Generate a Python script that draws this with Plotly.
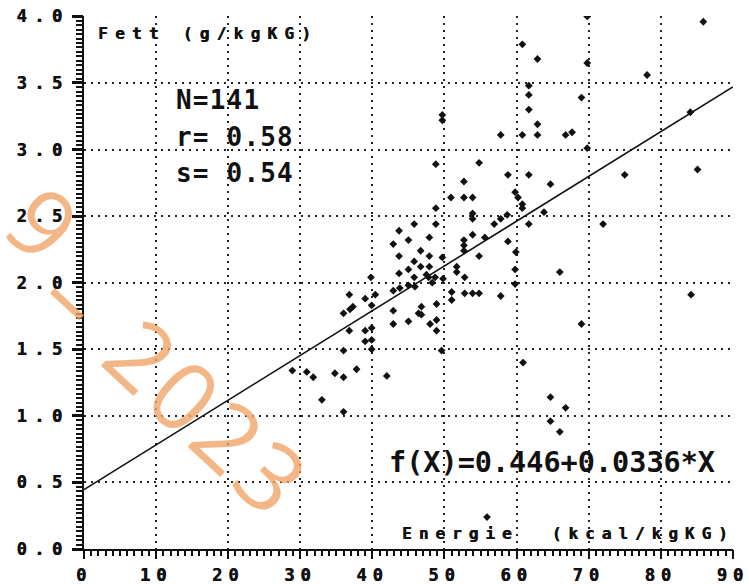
import plotly.graph_objects as go

# ---- data ----
energie = [85.9, 69.8, 60.8, 62.9, 69.8, 78.1, 61.7, 61.7, 69.0, 49.7,
           49.7, 61.7, 62.9, 57.8, 60.8, 62.9, 66.8, 67.7, 84.1, 48.8,
           54.8, 58.8, 61.7, 64.7, 75.0, 85.1, 69.8, 63.8, 50.9, 52.7,
           53.9, 52.7, 48.8, 53.9, 53.9, 48.8, 45.8, 43.7, 45.0, 47.9,
           42.9, 46.7, 43.7, 47.9, 49.7, 45.8, 45.0, 46.7, 47.9, 43.7,
           45.8, 47.8, 48.7, 52.7, 52.7, 53.9, 52.7, 54.8, 55.6, 56.9,
           57.8, 58.7, 58.8, 59.9, 59.8, 60.2, 60.8, 60.8, 61.7, 72.0,
           51.7, 51.7, 52.8, 51.0, 52.8, 53.9, 54.8, 57.8, 59.8, 59.8,
           66.0, 84.2, 40.4, 39.8, 36.8, 39.0, 42.9, 43.8, 45.0, 37.3,
           36.0, 36.9, 39.9, 42.9, 42.9, 45.0, 36.8, 39.0, 39.9, 39.0,
           39.9, 36.0, 39.9, 28.9, 30.9, 31.8, 34.8, 36.0, 37.8, 42.0,
           33.0, 36.0, 46.4, 46.8, 46.8, 48.9, 48.9, 48.9, 48.0, 49.6,
           60.9, 51.0, 64.7, 66.8, 64.7, 66.0, 69.0, 55.9, 45.9, 49.8,
           47.5, 48.3]
fett = [3.96, 4.00, 3.79, 3.68, 3.65, 3.56, 3.48, 3.41, 3.39, 3.26,
        3.22, 3.30, 3.19, 3.11, 3.11, 3.11, 3.11, 3.13, 3.28, 2.89,
        2.90, 2.81, 2.81, 2.74, 2.81, 2.85, 3.01, 2.53, 2.64, 2.64,
        2.64, 2.76, 2.56, 2.52, 2.48, 2.44, 2.44, 2.39, 2.32, 2.34,
        2.29, 2.24, 2.20, 2.20, 2.19, 2.16, 2.10, 2.12, 2.12, 2.07,
        2.04, 2.04, 2.04, 2.32, 2.28, 2.36, 2.24, 2.20, 2.34, 2.44,
        2.48, 2.51, 2.31, 2.23, 2.68, 2.64, 2.59, 2.56, 2.44, 2.44,
        2.12, 2.08, 2.04, 1.93, 1.92, 1.92, 1.92, 1.90, 2.10, 1.99,
        2.08, 1.91, 1.91, 2.04, 1.91, 1.88, 1.94, 1.96, 1.98, 1.82,
        1.77, 1.80, 1.83, 1.79, 1.69, 1.71, 1.64, 1.64, 1.66, 1.56,
        1.57, 1.49, 1.50, 1.34, 1.33, 1.29, 1.32, 1.29, 1.35, 1.30,
        1.12, 1.03, 1.77, 1.82, 1.76, 1.84, 1.72, 1.64, 1.69, 1.49,
        1.40, 1.87, 1.14, 1.06, 0.96, 0.88, 1.69, 0.24, 1.97, 2.03,
        2.06, 2.00]

fit_intercept = 0.446
fit_slope = 0.0336
fit_x = [0, 90]

x_tickvals = [0, 10, 20, 30, 40, 50, 60, 70, 80, 90]
x_ticklabels = ["0", "10", "20", "30", "40", "50", "60", "70", "80", "90"]
y_tickvals = [0.0, 0.5, 1.0, 1.5, 2.0, 2.5, 3.0, 3.5, 4.0]
y_ticklabels = ["0.0", "0.5", "1.0", "1.5", "2.0", "2.5", "3.0", "3.5", "4.0"]
x_minor_per_major = 10   # ruler ticks between labelled ticks
y_minor_per_major = 15

y_title = "Fett (g/kgKG)"
x_title = "Energie\u00a0\u00a0(kcal/kgKG)"
stats_lines = ["N=141", "r= 0.58", "s= 0.54"]
formula = "f(X)=0.446+0.0336*X"
watermark_parts = ["9", "\u2013", "2023"]

MONO = "DejaVu Sans Mono"
INK = "#111"
HEAVY = "0.6px 0 0 #111"


def spaced(t, px, bold=True):
    inner = "<b>%s</b>" % t if bold else t
    return '<span style="letter-spacing:%spx">%s</span>' % (px, inner)


def ruler(vals, labels, n):
    step = (vals[1] - vals[0]) / n
    pos, txt = [], []
    for i in range(len(vals) - 1):
        for k in range(n):
            pos.append(vals[i] + k * step)
            txt.append(labels[i] if k == 0 else "")
    pos.append(vals[-1])
    txt.append(labels[-1])
    return pos, txt


fit_y = [fit_intercept + fit_slope * v for v in fit_x]
xr_pos, xr_txt = ruler(x_tickvals, x_ticklabels, x_minor_per_major)
yr_pos, yr_txt = ruler(y_tickvals, y_ticklabels, y_minor_per_major)

fig = go.Figure()
fig.add_trace(go.Scatter(x=fit_x, y=fit_y, mode="lines", xaxis="x", yaxis="y",
                         line=dict(color=INK, width=1.6),
                         hoverinfo="skip", showlegend=False))
fig.add_trace(go.Scatter(x=energie, y=fett, mode="markers", xaxis="x2", yaxis="y2",
                         marker=dict(symbol="diamond", size=6, color=INK),
                         showlegend=False))

XR = [0, 90.02]
YR = [0, 4.003]
tickfont = dict(family=MONO, size=17, color=INK, shadow=HEAVY)

fig.update_layout(
    xaxis=dict(range=XR, tickmode="array", tickvals=xr_pos,
               ticktext=[spaced(t, 6) if t else "" for t in xr_txt],
               ticks="outside", ticklen=5, tickwidth=1.5, tickcolor=INK,
               ticklabelstandoff=5, ticklabeloverflow="allow",
               showline=True, linecolor=INK, linewidth=2,
               showgrid=False, zeroline=False, tickfont=tickfont),
    yaxis=dict(range=YR, tickmode="array", tickvals=yr_pos,
               ticktext=[spaced(t, 7.5) if t else "" for t in yr_txt],
               ticks="outside", ticklen=6, tickwidth=1.5, tickcolor=INK,
               ticklabelstandoff=3, ticklabeloverflow="allow",
               showline=True, linecolor=INK, linewidth=2,
               showgrid=False, zeroline=False, tickfont=tickfont),
    xaxis2=dict(range=XR, overlaying="x", anchor="y2", side="bottom",
                tickmode="array", tickvals=x_tickvals, showticklabels=False,
                ticks="outside", ticklen=9, tickwidth=2, tickcolor=INK,
                showline=False, zeroline=False,
                showgrid=True, gridcolor="#222", gridwidth=2, griddash="2px,5px"),
    yaxis2=dict(range=YR, overlaying="y", anchor="x2", side="left",
                tickmode="array", tickvals=y_tickvals, showticklabels=False,
                ticks="outside", ticklen=11, tickwidth=2.5, tickcolor=INK,
                showline=False, zeroline=False,
                showgrid=True, gridcolor="#222", gridwidth=2, griddash="2px,5px"),
)

W, H = 749, 584
L, R, T, B = 84, 16, 16, 35
pw, ph = W - L - R, H - T - B


def px2paper(px, py):
    return (px - L) / pw, (H - B - py) / ph


annos = []
x0, y0 = px2paper(96, 34)
annos.append(dict(text=spaced(y_title, 7.3), x=x0, y=y0, xanchor="left", yanchor="middle",
                  font=dict(family=MONO, size=16, color=INK, shadow=HEAVY)))
x0, y0 = px2paper(400, 533)
annos.append(dict(text=spaced(x_title, 7), x=x0, y=y0, xanchor="left", yanchor="middle",
                  font=dict(family=MONO, size=16, color=INK, shadow=HEAVY)))
for line, cy in zip(stats_lines, [100, 137, 173]):
    x0, y0 = px2paper(174, cy)
    annos.append(dict(text=spaced(line, 1.2), x=x0, y=y0, xanchor="left", yanchor="middle",
                      font=dict(family=MONO, size=26, color=INK)))
x0, y0 = px2paper(387, 462)
annos.append(dict(text=spaced(formula, 0), x=x0, y=y0, xanchor="left", yanchor="middle",
                  font=dict(family=MONO, size=28.5, color=INK)))

wm_font = dict(family="Open Sans", size=95, color="rgba(240,165,105,0.8)", weight=400)
wm_centres = [(44, 222), (75, 296), (209, 416)]
for part, (cx, cy) in zip(watermark_parts, wm_centres):
    x0, y0 = px2paper(cx, cy)
    annos.append(dict(text=spaced(part, 5 if len(part) > 1 else 0, bold=False),
                      x=x0, y=y0, xanchor="center", yanchor="middle",
                      textangle=43, font=wm_font))
for a in annos:
    a.update(xref="paper", yref="paper", showarrow=False)
fig.update_layout(annotations=annos)

fig.update_layout(width=W, height=H,
                  margin=dict(l=L, r=R, t=T, b=B, autoexpand=False),
                  paper_bgcolor="white", plot_bgcolor="white")

fig.write_html("out.html")
